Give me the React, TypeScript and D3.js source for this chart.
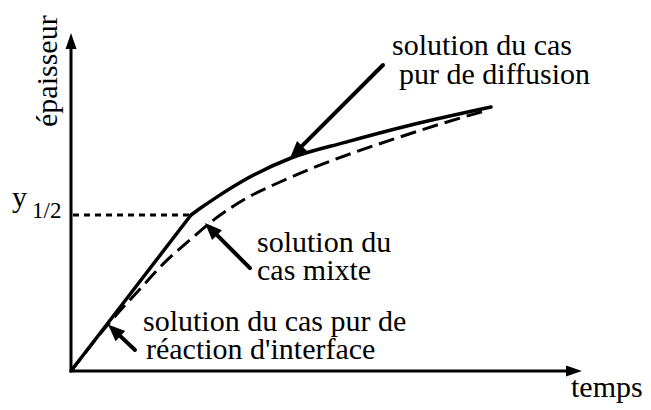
import React from "react";
import * as d3 from "d3";

// Pure solution: linear growth (interface reaction) then parabolic (diffusion)
const pureTime = [0, 12, 24, 26, 29, 34, 44, 55, 68, 84];
const pureThickness = [0, 26, 52, 54.4, 57.8, 63, 71, 76.3, 82, 88];

// Mixed case solution
const mixedTime = [0, 7.8, 13.8, 18.8, 23.8, 28.8, 35.2, 41.8, 48.4, 56.4, 65.8, 73.8, 82.8];
const mixedThickness = [0, 16.3, 27.3, 36.3, 43.7, 50.7, 57.7, 63, 67.7, 72.7, 78, 82.3, 86.7];

// Index of the transition point where thickness reaches y1/2
const halfIndex = 2;

// Axis extents (data units)
const timeMax = 102.2;
const thicknessMax = 112.7;

// Annotation arrows: [time, thickness] of tail and head
const arrowTails = [
  [62.4, 102],
  [35.8, 34.3],
  [12.8, 7],
];
const arrowHeads = [
  [43.8, 71],
  [26.8, 49.3],
  [7.4, 15.5],
];

const W = 651;
const H = 410;

function arrowHeadPath(x1: number, y1: number, x2: number, y2: number, len: number, half: number) {
  const a = Math.atan2(y2 - y1, x2 - x1);
  const bx = x2 - len * Math.cos(a);
  const by = y2 - len * Math.sin(a);
  const px = -Math.sin(a) * half;
  const py = Math.cos(a) * half;
  return `M${x2},${y2}L${bx + px},${by + py}L${bx - px},${by - py}Z`;
}

export default function App() {
  const x = d3.scaleLinear().domain([0, 100]).range([71, 571]);
  const y = d3.scaleLinear().domain([0, 100]).range([371, 71]);

  const linear = d3
    .line<[number, number]>()
    .x((d) => x(d[0]))
    .y((d) => y(d[1]));
  const smooth = d3
    .line<[number, number]>()
    .x((d) => x(d[0]))
    .y((d) => y(d[1]))
    .curve(d3.curveMonotoneX);

  const purePts = pureTime.map((t, i) => [t, pureThickness[i]] as [number, number]);
  const mixedPts = mixedTime.map((t, i) => [t, mixedThickness[i]] as [number, number]);

  // linear regime up to y1/2, then the diffusion regime
  const pureLinear = linear(purePts.slice(0, halfIndex + 1)) || "";
  const pureParabolic = smooth(purePts.slice(halfIndex)) || "";

  const x0 = x(0);
  const y0 = y(0);
  const xEnd = x(timeMax);
  const yEnd = y(thicknessMax);
  const yHalf = y(pureThickness[halfIndex]);
  const xHalf = x(pureTime[halfIndex]);

  return (
    <svg
      width={W}
      height={H}
      style={{ position: "absolute", left: 0, top: 0, background: "#fff" }}
    >
      {/* axes */}
      <line x1={x0} y1={y0 + 1.5} x2={x0} y2={yEnd + 10} stroke="#000" strokeWidth={3} />
      <path d={arrowHeadPath(x0, y0, x0, yEnd, 16, 5.5)} fill="#000" />
      <line x1={x0 - 1.5} y1={y0} x2={xEnd - 10} y2={y0} stroke="#000" strokeWidth={3} />
      <path d={arrowHeadPath(x0, y0, xEnd, y0, 16, 5.5)} fill="#000" />

      {/* y1/2 reference */}
      <line
        x1={x0 + 2}
        y1={yHalf}
        x2={xHalf}
        y2={yHalf}
        stroke="#000"
        strokeWidth={3}
        strokeDasharray="6 5"
      />

      {/* curves */}
      <path d={smooth(mixedPts) || ""} fill="none" stroke="#000" strokeWidth={3} strokeDasharray="16 7" />
      <path d={pureLinear} fill="none" stroke="#000" strokeWidth={3.5} strokeLinejoin="round" />
      <path d={pureParabolic} fill="none" stroke="#000" strokeWidth={3.5} strokeLinejoin="round" strokeLinecap="round" />

      {/* annotation arrows */}
      {arrowTails.map((tail, i) => {
        const head = arrowHeads[i];
        const x1 = x(tail[0]);
        const y1 = y(tail[1]);
        const x2 = x(head[0]);
        const y2 = y(head[1]);
        const a = Math.atan2(y2 - y1, x2 - x1);
        return (
          <g key={i}>
            <line
              x1={x1}
              y1={y1}
              x2={x2 - 10 * Math.cos(a)}
              y2={y2 - 10 * Math.sin(a)}
              stroke="#000"
              strokeWidth={4}
              strokeLinecap="round"
            />
            <path d={arrowHeadPath(x1, y1, x2, y2, 17, 7)} fill="#000" />
          </g>
        );
      })}

      {/* labels */}
      <g fontFamily="Liberation Serif" fontSize={30} fill="#000">
        <text transform="translate(57,127) rotate(-90)">épaisseur</text>
        <text x={571} y={397}>temps</text>
        <text x={12} y={207}>y</text>
        <text x={32} y={218} fontSize={23}>1/2</text>

        <text x={392} y={55}>solution du cas</text>
        <text x={399} y={84}>pur de diffusion</text>

        <text x={257} y={252}>solution du</text>
        <text x={257} y={280}>cas mixte</text>

        <text x={143} y={331}>solution du cas pur de</text>
        <text x={146} y={359}>réaction d'interface</text>
      </g>
    </svg>
  );
}
